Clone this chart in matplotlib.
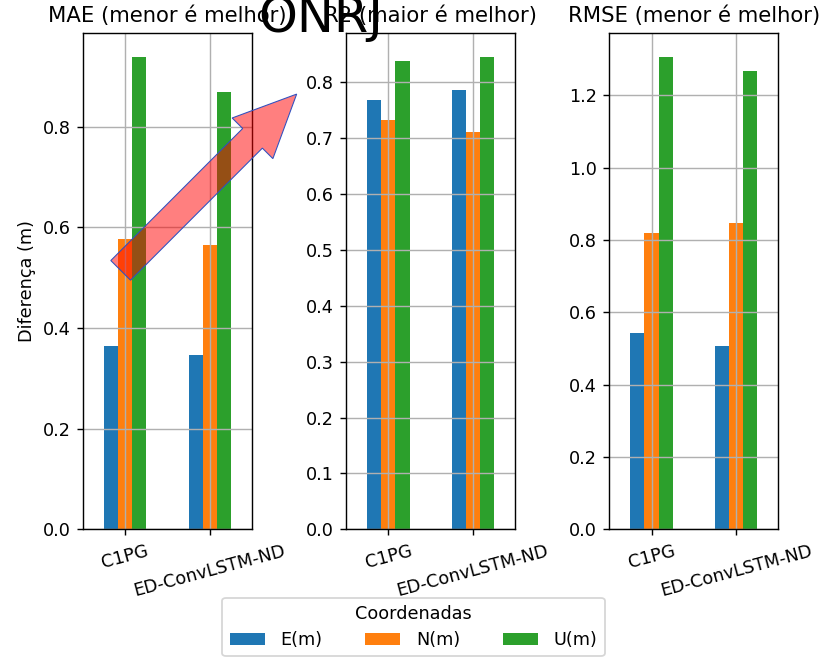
import matplotlib.pyplot as plt
from matplotlib.patches import FancyArrow
import numpy as np

modelos = ['C1PG', 'ED-ConvLSTM-ND']
coords = ['E(m)', 'N(m)', 'U(m)']
cores = ['#1f77b4', '#ff7f0e', '#2ca02c']

# valores por modelo: [E, N, U]
mae = [[0.364, 0.576, 0.939],
       [0.347, 0.564, 0.869]]
r2 = [[0.768, 0.732, 0.838],
      [0.787, 0.712, 0.846]]
rmse = [[0.544, 0.820, 1.307],
        [0.508, 0.848, 1.268]]

titulos = ['MAE (menor é melhor)', 'R2 (maior é melhor)', 'RMSE (menor é melhor)']
metricas = [mae, r2, rmse]

fig, axs = plt.subplots(1, 3, figsize=(827/127, 660/127), dpi=127)
fig.subplots_adjust(left=0.1004, right=0.941, bottom=0.198, top=0.95, wspace=0.558)

x = np.arange(len(modelos))
w = 0.5/3
for ax, tit, vals in zip(axs, titulos, metricas):
    vals = np.array(vals)
    for i, c in enumerate(coords):
        ax.bar(x + (i-1)*w, vals[:, i], w, color=cores[i], label=c)
    ax.set_xlim(-0.5, len(modelos)-0.5)
    ax.set_xticks(x)
    ax.set_xticklabels(modelos, rotation=15)
    ax.set_title(tit)
    ax.grid(True)

axs[0].set_ylabel('Diferença (m)')

fig.text(0.388, 0.952, 'ONRJ', fontsize=28, ha='center', va='baseline')

h, l = axs[0].get_legend_handles_labels()
fig.legend(h, l, loc='lower center', ncol=3, title='Coordenadas',
           bbox_to_anchor=(0.5, 0.0), borderaxespad=0.2,
           columnspacing=2.4, handletextpad=0.9)

# seta entre os paineis (em polegadas)
seta = FancyArrow(0.950, 3.068, 1.386, 1.388, width=0.219, head_width=0.453,
                  head_length=0.492, length_includes_head=True,
                  facecolor=(1, 0, 0, 0.5), edgecolor='#3050c0', lw=0.6,
                  transform=fig.dpi_scale_trans)
fig.add_artist(seta)

plt.savefig('out.png', dpi=127)
